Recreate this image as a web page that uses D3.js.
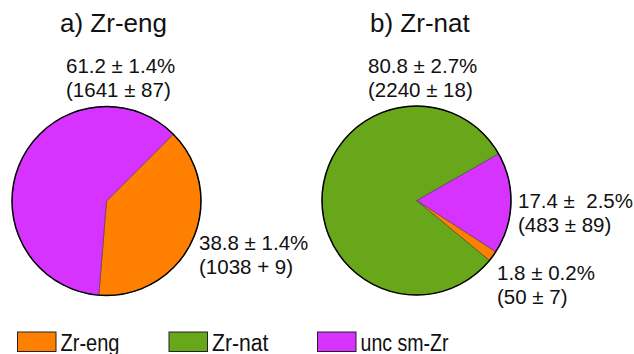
<!DOCTYPE html>
<html>
<head>
<meta charset="utf-8">
<script src="https://cdn.jsdelivr.net/npm/d3@7"></script>
<style>
  html, body { margin: 0; padding: 0; background: #fff; }
  svg text { font-family: "Liberation Sans", Arial, sans-serif; fill: #111; }
</style>
</head>
<body>
<svg id="chart" width="634" height="354"></svg>
<script>
// Fractions (%) of each component in the two samples
const categories = ["Zr-eng", "Zr-nat", "unc sm-Zr"];
const engCategories = ["Zr-eng", "unc sm-Zr"];
const engValues = [38.8, 61.2];
const natCategories = ["unc sm-Zr", "Zr-eng", "Zr-nat"];
const natValues = [17.4, 1.8, 80.8];
const engLabels = [["38.8 \u00b1 1.4%", "(1038 + 9)"], ["61.2 \u00b1 1.4%", "(1641 \u00b1 87)"]];
const natLabels = [["17.4 \u00b1  2.5%", "(483 \u00b1 89)"], ["1.8 \u00b1 0.2%", "(50 \u00b1 7)"], ["80.8 \u00b1 2.7%", "(2240 \u00b1 18)"]];
const titles = ["a) Zr-eng", "b) Zr-nat"];

const colour = d3.scaleOrdinal()
  .domain(categories)
  .range(["#ff8000", "#68a61a", "#d633ff"]);

const svg = d3.select("#chart");
const R = 94.5;
const deg = Math.PI / 180;

function drawPie(cx, cy, cats, vals, labels, start, labelPos, title, titleX) {
  const data = cats.map((c, i) => ({ cat: c, value: vals[i], label: labels[i] }));
  const pie = d3.pie().sort(null).value(d => d.value)
    .startAngle(start).endAngle(start + 2 * Math.PI);
  const arc = d3.arc().innerRadius(0).outerRadius(R);
  const g = svg.append("g").attr("transform", `translate(${cx},${cy})`);
  g.selectAll("path.slice").data(pie(data)).join("path")
    .attr("class", "slice")
    .attr("d", arc)
    .attr("fill", d => colour(d.data.cat))
    .attr("stroke", "#333")
    .attr("stroke-width", 0.5);
  g.append("circle").attr("r", R).attr("fill", "none")
    .attr("stroke", "#000").attr("stroke-width", 1.5);

  svg.append("text").attr("x", titleX).attr("y", 31.5)
    .attr("font-size", 26).text(title);

  data.forEach((d, i) => {
    const p = labelPos[i];
    const t = svg.append("text").attr("font-size", 20.5)
      .attr("xml:space", "preserve").style("white-space", "pre");
    d.label.forEach((line, k) => {
      t.append("tspan").attr("x", p[0]).attr("y", p[1] + k * 24).text(line);
    });
  });
}

drawPie(106.5, 201, engCategories, engValues, engLabels, 45 * deg,
  [[199, 250], [66, 73]], titles[0], 60);
drawPie(416.5, 200.5, natCategories, natValues, natLabels, 60.3 * deg,
  [[518, 208], [497, 280], [368, 73]], titles[1], 370);

// Legend (narrow lettering, as in the original layout)
const legendX = [17.5, 169, 317.5];
const legendW = [59, 56.5, 88];
const legend = svg.append("g");
categories.forEach((c, i) => {
  legend.append("rect").attr("x", legendX[i]).attr("y", 332)
    .attr("width", 38.5).attr("height", 19.5)
    .attr("fill", colour(c)).attr("stroke", "#222").attr("stroke-width", 1);
  legend.append("text").attr("x", legendX[i] + 43).attr("y", 350.5)
    .attr("font-size", 23.5)
    .attr("textLength", legendW[i]).attr("lengthAdjust", "spacingAndGlyphs")
    .text(c);
});
</script>
</body>
</html>
